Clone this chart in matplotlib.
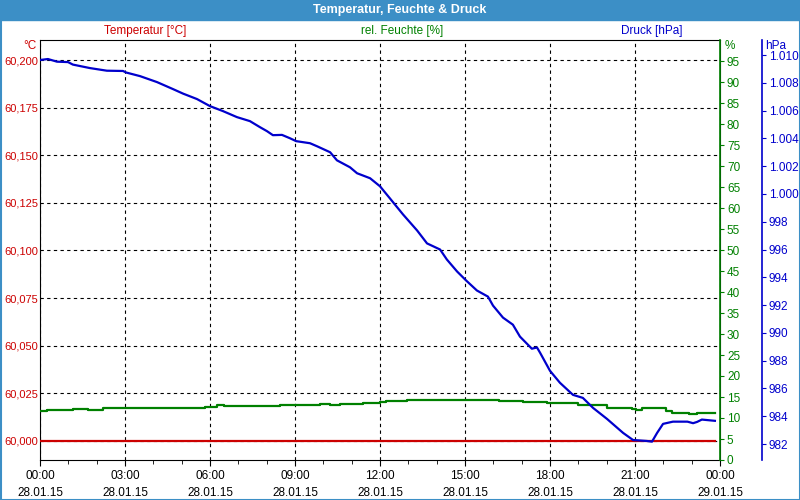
import numpy as np
import matplotlib
matplotlib.use('Agg')
import matplotlib.pyplot as plt
from matplotlib.patches import Rectangle
from matplotlib.ticker import FuncFormatter, MultipleLocator

# data (time in hours since 28.01.15 00:00)
p_hours = [0.0, 0.28, 0.6, 0.99, 1.16, 1.76, 2.36, 2.93, 3.04, 3.53, 4.13, 4.69,
           5.05, 5.54, 6.0, 6.46, 6.95, 7.41, 7.76, 8.01, 8.22, 8.54, 8.82, 9.04,
           9.53, 9.78, 10.24, 10.48, 10.94, 11.19, 11.65, 12.0, 12.35, 12.81,
           13.31, 13.66, 14.12, 14.36, 14.72, 15.04, 15.42, 15.81, 15.99, 16.34,
           16.69, 16.94, 17.22, 17.36, 17.54, 17.65, 18.0, 18.35, 18.81, 19.16,
           19.52, 20.01, 20.58, 20.93, 21.42, 21.6, 21.78, 21.99, 22.34, 22.85,
           23.05, 23.19, 23.36, 23.82]
pressure = [1009.64, 1009.71, 1009.52, 1009.49, 1009.31, 1009.06, 1008.87,
            1008.85, 1008.74, 1008.48, 1008.05, 1007.55, 1007.22, 1006.83,
            1006.32, 1005.96, 1005.53, 1005.24, 1004.81, 1004.52, 1004.23,
            1004.25, 1004.01, 1003.80, 1003.65, 1003.43, 1003.00, 1002.42,
            1001.92, 1001.49, 1001.13, 1000.55, 999.68, 998.53, 997.37, 996.44,
            996.00, 995.28, 994.42, 993.77, 993.05, 992.61, 991.96, 991.10,
            990.59, 989.73, 989.15, 988.86, 988.95, 988.57, 987.27, 986.41,
            985.54, 985.32, 984.60, 983.81, 982.80, 982.29, 982.22, 982.17,
            982.80, 983.45, 983.61, 983.61, 983.50, 983.59, 983.76, 983.67]

h_hours = [0.0, 0.24, 1.17, 1.7, 2.24, 2.47, 3.0, 3.88, 5.82, 6.23, 6.5, 8.47,
           9.88, 10.24, 10.6, 11.4, 12.0, 12.2, 12.7, 12.95, 16.1, 16.2, 17.05,
           17.9, 18.8, 19.0, 19.5, 20.0, 20.9, 21.05, 21.25, 21.8, 22.1, 22.3,
           22.7, 22.9, 23.05, 23.2, 23.82]
humidity = [11.7, 11.9, 12.1, 11.9, 12.3, 12.5, 12.5, 12.4, 12.7, 13.2, 12.9,
            13.1, 13.3, 13.1, 13.3, 13.6, 13.8, 14.0, 14.1, 14.3, 14.3, 14.1,
            13.8, 13.6, 13.5, 13.1, 13.0, 12.3, 12.1, 11.9, 12.4, 12.4, 11.7,
            11.3, 11.3, 10.9, 10.9, 11.3, 11.3]

t_hours = [0.0, 23.82]
temperature = [60.0, 60.0]

x_labels = ['00:00\n28.01.15', '03:00\n28.01.15', '06:00\n28.01.15',
            '09:00\n28.01.15', '12:00\n28.01.15', '15:00\n28.01.15',
            '18:00\n28.01.15', '21:00\n28.01.15', '00:00\n29.01.15']

RED = '#cc0000'
GREEN = '#008000'
BLUE = '#0000cc'
FRAME = '#3c8fc6'

plt.rcParams['font.family'] = ['Liberation Sans', 'DejaVu Sans']
plt.rcParams['font.size'] = 8.5

fig = plt.figure(figsize=(8, 5), dpi=100)
ax = fig.add_axes([40/800, 40/500, 680/800, 420/500])

# title bar + frame
fig.patches.append(Rectangle((0, 1 - 20/500), 1, 20/500, transform=fig.transFigure,
                             color=FRAME, zorder=0))
fig.patches.append(Rectangle((0.5/800, 0.5/500), 799/800, 499/500, transform=fig.transFigure,
                             fill=False, edgecolor=FRAME, lw=1.5, zorder=0))
fig.text(0.5, 1 - 10/500, 'Temperatur, Feuchte & Druck', color='white',
         fontweight='bold', fontsize=9, ha='center', va='center')

# temperature (left)
ax.plot(t_hours, temperature, color=RED, lw=1.6, zorder=3)
ax.set_xlim(0, 24)
ax.set_ylim(59.990, 60.2105)
ax.yaxis.set_major_locator(MultipleLocator(0.025))
ax.yaxis.set_major_formatter(FuncFormatter(lambda v, p: ('%.3f' % v).replace('.', ',')))
ax.tick_params(axis='y', colors=RED, length=0, pad=1.5, labelsize=8)
ax.set_xticks(np.arange(0, 25, 3))
ax.set_xticklabels(x_labels, linespacing=1.55)
ax.xaxis.set_minor_locator(MultipleLocator(1))
ax.tick_params(axis='x', which='major', length=4, pad=3, colors='black')
ax.tick_params(axis='x', which='minor', length=3)
ax.grid(True, which='major', color='black', linestyle=(0, (3, 3)), lw=0.8)
for s in ax.spines.values():
    s.set_color('black')

# humidity (right)
ax2 = ax.twinx()
ax2.plot(h_hours, humidity, color=GREEN, lw=1.6, drawstyle='steps-post', zorder=3)
ax2.set_ylim(0, 100)
ax2.set_yticks(np.arange(0, 96, 5))
ax2.tick_params(axis='y', colors=GREEN, length=3, pad=2)
ax2.spines['right'].set_color(GREEN)
ax2.spines['right'].set_linewidth(1.2)

# pressure (outer right)
ax3 = ax.twinx()
ax3.plot(p_hours, pressure, color=BLUE, lw=1.6, zorder=4)
ax3.set_ylim(980.85, 1011.08)
ax3.set_yticks(np.arange(982, 1011, 2))
ax3.yaxis.set_major_formatter(FuncFormatter(
    lambda v, p: ('%d.%03d' % (int(v) // 1000, int(v) % 1000)) if v >= 1000 else '%d' % v))
ax3.spines['right'].set_position(('axes', 1 + 42/680))
ax3.spines['right'].set_color(BLUE)
ax3.spines['right'].set_linewidth(1.2)
ax3.tick_params(axis='y', colors=BLUE, length=3, pad=2)
for s in ['top', 'left', 'bottom']:
    ax3.spines[s].set_visible(False)
    ax2.spines[s].set_visible(False)

# series labels and units
fig.text(145/800, 1 - 31/500, 'Temperatur [°C]', color=RED, ha='center', va='center')
fig.text(402/800, 1 - 31/500, 'rel. Feuchte [%]', color=GREEN, ha='center', va='center')
fig.text(652/800, 1 - 31/500, 'Druck [hPa]', color=BLUE, ha='center', va='center')
fig.text(36/800, 1 - 46/500, '°C', color=RED, ha='right', va='center')
fig.text(725/800, 1 - 46/500, '%', color=GREEN, ha='left', va='center')
fig.text(765/800, 1 - 46/500, 'hPa', color=BLUE, ha='left', va='center')

fig.savefig('out.png', dpi=100)
